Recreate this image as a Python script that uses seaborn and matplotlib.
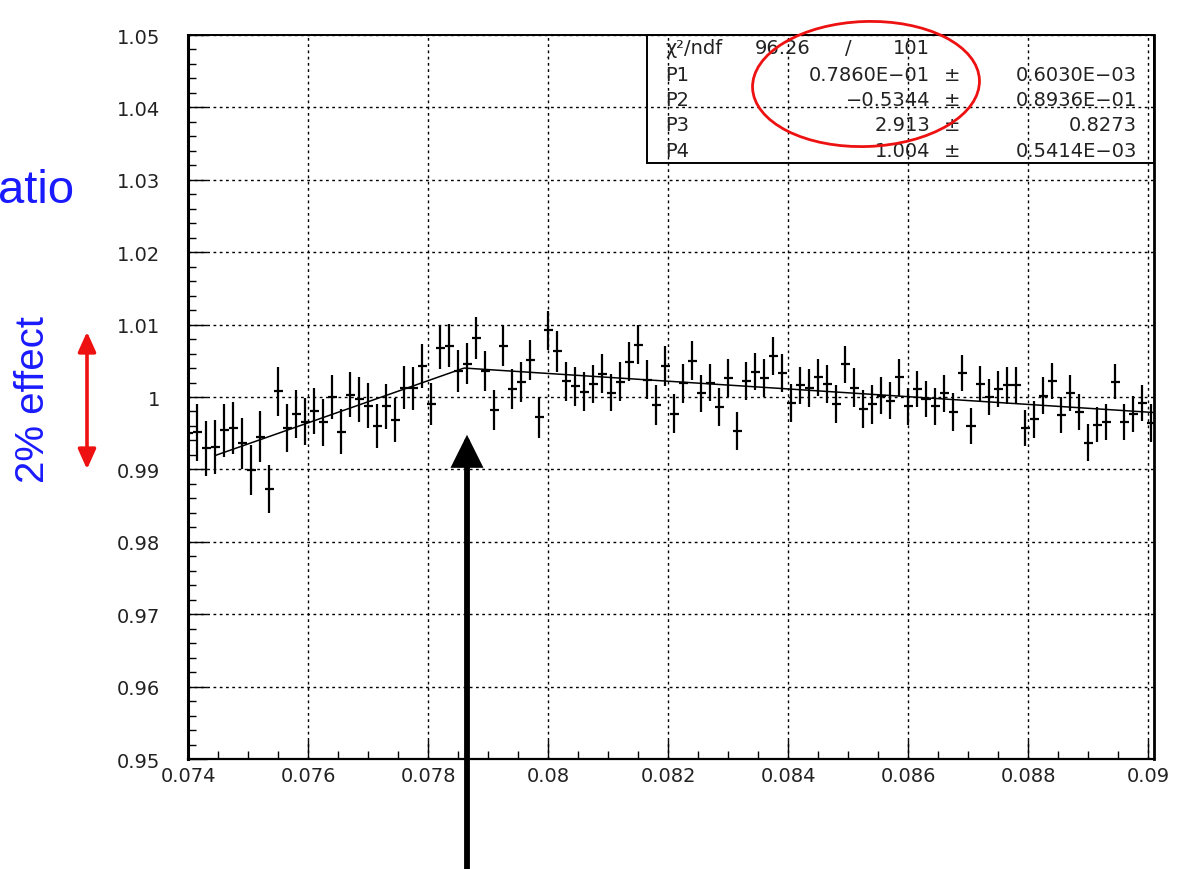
import numpy as np
import pandas as pd
import matplotlib
matplotlib.use("Agg")
import matplotlib.pyplot as plt
import seaborn as sns
from matplotlib.patches import Ellipse, Rectangle, FancyArrowPatch
from matplotlib.ticker import MultipleLocator, FuncFormatter

# ---- histogram of the ratio: 108 bins of width 0.00015 starting at 0.074 ----
bin_width = 0.00015
x_start = 0.074
ratio = [0.9950, 0.9951, 0.9929, 0.9931, 0.9954, 0.9957, 0.9936, 0.9899, 0.9945, 0.9873,
         1.0008, 0.9957, 0.9977, 0.9966, 0.9981, 0.9965, 1.0000, 0.9952, 1.0003, 0.9997,
         0.9988, 0.9960, 0.9987, 0.9968, 1.0013, 1.0012, 1.0043, 0.9990, 1.0068, 1.0071,
         1.0036, 1.0046, 1.0082, 1.0036, 0.9982, 1.0071, 1.0011, 1.0021, 1.0051, 0.9972,
         1.0092, 1.0063, 1.0022, 1.0015, 1.0007, 1.0018, 1.0032, 1.0006, 1.0021, 1.0049,
         1.0072, 1.0024, 0.9989, 1.0043, 0.9977, 1.0019, 1.0050, 1.0005, 1.0020, 0.9986,
         1.0026, 0.9953, 1.0022, 1.0035, 1.0026, 1.0057, 1.0033, 0.9992, 1.0016, 1.0012,
         1.0027, 1.0018, 0.9990, 1.0045, 1.0013, 0.9983, 0.9990, 1.0002, 0.9995, 1.0027,
         0.9987, 1.0011, 0.9997, 0.9987, 1.0005, 0.9979, 1.0033, 0.9960, 1.0018, 1.0000,
         1.0011, 1.0016, 1.0016, 0.9957, 0.9969, 1.0002, 1.0022, 0.9975, 1.0006, 0.9979,
         0.9937, 0.9962, 0.9966, 1.0021, 0.9966, 0.9976, 0.9992, 0.9964]
ratio_err = [0.0040, 0.0040, 0.0038, 0.0037, 0.0037, 0.0036, 0.0035, 0.0035, 0.0035, 0.0033,
             0.0034, 0.0033, 0.0033, 0.0032, 0.0032, 0.0032, 0.0031, 0.0031, 0.0031, 0.0031,
             0.0031, 0.0031, 0.0031, 0.0030, 0.0030, 0.0030, 0.0030, 0.0029, 0.0030, 0.0030,
             0.0029, 0.0028, 0.0029, 0.0028, 0.0028, 0.0028, 0.0028, 0.0028, 0.0028, 0.0028,
             0.0027, 0.0028, 0.0027, 0.0027, 0.0027, 0.0026, 0.0027, 0.0026, 0.0027, 0.0027,
             0.0027, 0.0027, 0.0027, 0.0028, 0.0027, 0.0027, 0.0027, 0.0026, 0.0026, 0.0026,
             0.0026, 0.0026, 0.0026, 0.0026, 0.0026, 0.0026, 0.0026, 0.0026, 0.0026, 0.0026,
             0.0026, 0.0026, 0.0026, 0.0026, 0.0027, 0.0026, 0.0027, 0.0026, 0.0026, 0.0026,
             0.0026, 0.0025, 0.0025, 0.0026, 0.0026, 0.0026, 0.0025, 0.0025, 0.0025, 0.0025,
             0.0025, 0.0025, 0.0025, 0.0025, 0.0025, 0.0026, 0.0025, 0.0025, 0.0025, 0.0025,
             0.0026, 0.0024, 0.0025, 0.0024, 0.0025, 0.0025, 0.0025, 0.0026]

# ---- broken-line fit parameters ----
fit_names = ["P1", "P2", "P3", "P4"]
fit_values = [0.0786, -0.5344, 2.913, 1.004]
fit_value_text = ["0.7860E\u221201", "\u22120.5344", "2.913", "1.004"]
fit_error_text = ["0.6030E\u221203", "0.8936E\u221201", "0.8273", "0.5414E\u221203"]
chi2, ndf = 96.26, 101
fit_range = (0.07445, 0.0901)

x_ticks = [0.074, 0.076, 0.078, 0.080, 0.082, 0.084, 0.086, 0.088, 0.090]
y_ticks = [0.95, 0.96, 0.97, 0.98, 0.99, 1.00, 1.01, 1.02, 1.03, 1.04, 1.05]

bins = pd.DataFrame({
    "x": x_start + bin_width * np.arange(len(ratio)),
    "ratio": ratio,
    "err": ratio_err,
})


def broken_line(x, p1, p2, p3, p4):
    slope = np.where(x < p1, p3, p2)
    return p4 + slope * (x - p1)


xf = np.linspace(fit_range[0], fit_range[1], 400)
fit_df = pd.DataFrame({"x": xf, "y": broken_line(xf, *fit_values)})

# ---- style ----
sns.set_theme(style="white")
plt.rcParams["font.family"] = ["DejaVu Sans"]
plt.rcParams["axes.unicode_minus"] = True

fig = plt.figure(figsize=(11.82, 8.70), dpi=100)
ax = fig.add_axes([188 / 1182, 110 / 870, 966 / 1182, 724 / 870])
ax.set_facecolor("white")

ax.errorbar(bins["x"], bins["ratio"], yerr=bins["err"], xerr=bin_width / 2,
            fmt="none", ecolor="black", elinewidth=1.6, capsize=0, zorder=3)
sns.lineplot(data=fit_df, x="x", y="y", ax=ax, color="black", linewidth=1.1,
             zorder=4, legend=False)

ax.set_xlim(0.074, 0.0901)
ax.set_ylim(0.95, 1.05)
ax.set_xlabel("")
ax.set_ylabel("")
ax.set_xticks(x_ticks)
ax.set_yticks(y_ticks)
ax.xaxis.set_minor_locator(MultipleLocator(0.0005))
ax.yaxis.set_minor_locator(MultipleLocator(0.002))
fmt = FuncFormatter(lambda v, p: f"{round(v, 4):g}")
ax.xaxis.set_major_formatter(fmt)
ax.yaxis.set_major_formatter(fmt)
ax.tick_params(which="major", direction="in", length=14, width=1.0, color="black",
               labelsize=14, labelcolor="#222222")
ax.tick_params(which="minor", direction="in", length=6, width=1.0, color="black")
ax.tick_params(axis="y", which="both", left=True, right=False, pad=20)
ax.tick_params(axis="x", which="both", bottom=True, top=False, pad=5)

ax.grid(True, which="major", color="black", linestyle=(0, (2, 2.5)), linewidth=1.0)
for side, lw in [("left", 2.2), ("bottom", 1.6), ("top", 1.4), ("right", 2.0)]:
    ax.spines[side].set_visible(True)
    ax.spines[side].set_color("black")
    ax.spines[side].set_linewidth(lw)

# ---- statistics box ----
px = fig.dpi_scale_trans


def P(x, y):
    # pixel position (from top-left) to inches
    return x / 100.0, (870 - y) / 100.0


box = Rectangle(P(647, 164), (1154 - 647) / 100, (164 - 36) / 100, transform=px,
                fill=False, edgecolor="black", linewidth=1.4, zorder=6)
fig.add_artist(box)

tkw = dict(transform=px, fontsize=14, color="#222222", va="center", zorder=7)
fig.text(*P(665, 49), "\u03c7\u00b2/ndf", ha="left", **tkw)
fig.text(*P(755, 49), f"{chi2:.2f}", ha="left", **tkw)
fig.text(*P(848, 49), "/", ha="center", **tkw)
fig.text(*P(930, 49), f"{ndf}", ha="right", **tkw)
row_y = [75.6, 101, 126, 151.6]
for name, vt, et, yy in zip(fit_names, fit_value_text, fit_error_text, row_y):
    fig.text(*P(665, yy), name, ha="left", **tkw)
    fig.text(*P(930, yy), vt, ha="right", **tkw)
    fig.text(*P(952, yy), "\u00b1", ha="center", **tkw)
    fig.text(*P(1137, yy), et, ha="right", **tkw)

# highlight around the fitted values
fig.add_artist(Ellipse(P(866, 85), 2.27, 1.25, angle=2, transform=px,
                       fill=False, edgecolor="#ee1111", linewidth=2.0, zorder=8))

# ---- side labels ----
fig.text(*P(74, 203), "atio", transform=px, ha="right", va="baseline",
         fontsize=34, color="#1a1aff", family=["Liberation Sans", "DejaVu Sans"])
fig.text(*P(33, 400), "2% effect", transform=px, ha="center", va="center",
         rotation=90, fontsize=29, color="#1a1aff",
         family=["Liberation Sans", "DejaVu Sans"])

fig.add_artist(FancyArrowPatch(P(87, 473), P(87, 330), transform=px,
                               arrowstyle="<|-|>,head_length=1.0,head_width=0.45",
                               mutation_scale=12, color="#ee1111", linewidth=2.6,
                               zorder=8))

# arrow pointing at the break position
fig.add_artist(FancyArrowPatch(P(467, 875), P(467, 433), transform=px,
                               arrowstyle="-|>,head_length=1.0,head_width=0.5",
                               mutation_scale=17, color="black", linewidth=4.2,
                               joinstyle="miter", zorder=9))

fig.savefig("out.png", dpi=100)
